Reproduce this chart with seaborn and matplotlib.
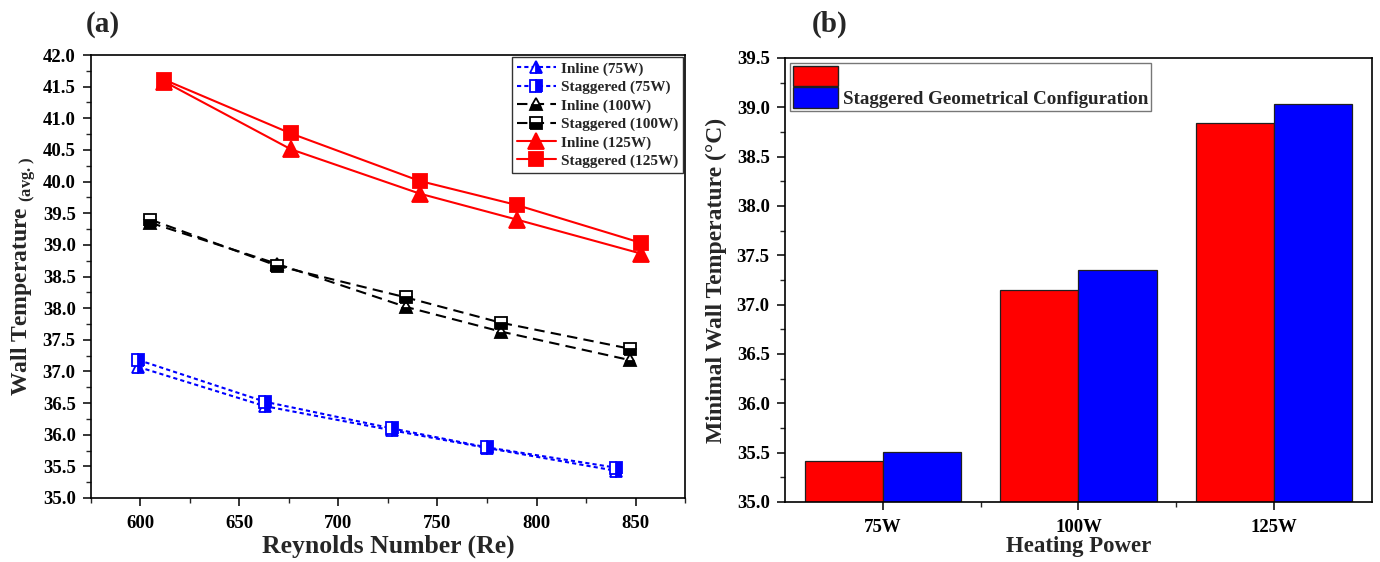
import matplotlib
matplotlib.use("Agg")
import matplotlib.pyplot as plt
from matplotlib.patches import Patch
from matplotlib.ticker import MultipleLocator
import seaborn as sns
import pandas as pd

# ---- data: panel (a) ----
re_inline_75 = [599, 663, 727, 775, 840]
t_inline_75 = [37.07, 36.45, 36.07, 35.79, 35.43]
re_stag_75 = [599, 663, 727, 775, 840]
t_stag_75 = [37.18, 36.52, 36.10, 35.80, 35.48]

re_inline_100 = [605, 669, 734, 782, 847]
t_inline_100 = [39.35, 38.70, 38.02, 37.63, 37.18]
re_stag_100 = [605, 669, 734, 782, 847]
t_stag_100 = [39.40, 38.67, 38.17, 37.77, 37.36]

re_inline_125 = [612, 676, 741, 790, 853]
t_inline_125 = [41.58, 40.51, 39.81, 39.40, 38.86]
re_stag_125 = [612, 676, 741, 790, 853]
t_stag_125 = [41.61, 40.76, 40.01, 39.63, 39.03]

# ---- data: panel (b) ----
power_labels = ["75W", "100W", "125W"]
min_inline = [35.42, 37.15, 38.84]
min_staggered = [35.51, 37.35, 39.03]

sns.set_theme(style="white")
plt.rcParams["font.family"] = ["Liberation Serif", "DejaVu Serif"]
plt.rcParams["font.weight"] = "bold"
plt.rcParams["mathtext.fontset"] = "custom"
plt.rcParams["mathtext.rm"] = "Liberation Serif:bold"
plt.rcParams["axes.labelweight"] = "bold"

fig = plt.figure(figsize=(13.8, 5.62), dpi=100)
ax1 = fig.add_axes([0.0659, 0.1139, 0.4305, 0.7882])
ax2 = fig.add_axes([0.5688, 0.1068, 0.4254, 0.7900])

series = [
    ("Inline (75W)", re_inline_75, t_inline_75, "blue", (0, (2, 1.5)), "^", "right", 9),
    ("Staggered (75W)", re_stag_75, t_stag_75, "blue", (0, (2, 1.5)), "s", "right", 8),
    ("Inline (100W)", re_inline_100, t_inline_100, "black", (0, (5, 3)), "^", "bottom", 9),
    ("Staggered (100W)", re_stag_100, t_stag_100, "black", (0, (5, 3)), "s", "bottom", 8),
    ("Inline (125W)", re_inline_125, t_inline_125, "red", "-", "^", "full", 11),
    ("Staggered (125W)", re_stag_125, t_stag_125, "red", "-", "s", "full", 10),
]
for label, xs, ys, col, ls, mk, fs, ms in series:
    df = pd.DataFrame({"Re": xs, "T": ys})
    sns.lineplot(data=df, x="Re", y="T", ax=ax1, color=col, linestyle=ls,
                 linewidth=1.5, marker=mk, markersize=ms, fillstyle=fs,
                 markerfacecoloralt="white", markeredgecolor=col,
                 markeredgewidth=1.3, label=label, sort=False)

ax1.set_xlim(575, 875)
ax1.set_ylim(35, 42)
ax1.xaxis.set_major_locator(MultipleLocator(50))
ax1.xaxis.set_minor_locator(MultipleLocator(25))
ax1.yaxis.set_major_locator(MultipleLocator(0.5))
ax1.yaxis.set_minor_locator(MultipleLocator(0.25))
ax1.yaxis.set_major_formatter(matplotlib.ticker.FormatStrFormatter("%.1f"))
ax1.set_xlabel("Reynolds Number (Re)", fontsize=18.5, fontweight="bold", labelpad=2)
ax1.set_ylabel(r"Wall Temperature $_{\mathregular{(avg.)}}$", fontsize=17,
               fontweight="bold", labelpad=3)
leg1 = ax1.legend(loc="upper right", fontsize=11, frameon=True, fancybox=False,
                  edgecolor="black", borderaxespad=0.15, handlelength=2.6,
                  labelspacing=0.3, borderpad=0.3, handletextpad=0.3)
leg1.get_frame().set_linewidth(1.0)
for t in leg1.get_texts():
    t.set_fontweight("bold")

# ---- panel (b) ----
bdf = pd.DataFrame({
    "Power": power_labels * 2,
    "Tmin": min_inline + min_staggered,
    "Config": ["Inline"] * 3 + ["Staggered"] * 3,
})
sns.barplot(data=bdf, x="Power", y="Tmin", hue="Config", palette=["#ff0000", "#0000ff"],
            ax=ax2, width=0.8, edgecolor="#202020", linewidth=0.9, saturation=1,
            legend=False)
ax2.set_xlim(-0.5, 2.5)
ax2.set_ylim(35, 39.5)
ax2.yaxis.set_major_locator(MultipleLocator(0.5))
ax2.yaxis.set_minor_locator(MultipleLocator(0.25))
ax2.yaxis.set_major_formatter(matplotlib.ticker.FormatStrFormatter("%.1f"))
ax2.xaxis.set_minor_locator(matplotlib.ticker.FixedLocator([0.5, 1.5]))
ax2.set_xlabel("Heating Power", fontsize=16.5, fontweight="bold", labelpad=0)
ax2.set_ylabel("Minimal Wall Temperature (°C)", fontsize=17, fontweight="bold",
               labelpad=7)
handles = [Patch(facecolor="#ff0000", edgecolor="#202020"),
           Patch(facecolor="#0000ff", edgecolor="#202020")]
leg2 = ax2.legend(handles, ["", "Staggered Geometrical Configuration"], loc="upper left",
                  fontsize=13.7, frameon=True, fancybox=False, edgecolor="#555555",
                  borderaxespad=0.25, handlelength=2.4, handleheight=1.3,
                  labelspacing=0.05, borderpad=0.15, handletextpad=0.25)
for t in leg2.get_texts():
    t.set_fontweight("bold")

for ax in (ax1, ax2):
    for sp in ax.spines.values():
        sp.set_visible(True)
        sp.set_color("black")
        sp.set_linewidth(1.2)
    ax.tick_params(which="major", direction="out", length=6, width=1.1,
                   bottom=True, left=True, top=False, right=False,
                   labelsize=13.5, colors="black", pad=5)
    ax.tick_params(which="minor", direction="out", length=3.5, width=1.0,
                   bottom=True, left=True, top=False, right=False)
    for lab in ax.get_xticklabels() + ax.get_yticklabels():
        lab.set_fontweight("bold")
ax1.tick_params(axis="x", which="major", pad=6)
ax2.tick_params(axis="x", which="major", pad=6)

fig.text(0.0746, 0.957, "(a)", fontsize=21, fontweight="bold", ha="center", va="center")
fig.text(0.6015, 0.957, "(b)", fontsize=21, fontweight="bold", ha="center", va="center")

fig.savefig("out.png", dpi=100)
